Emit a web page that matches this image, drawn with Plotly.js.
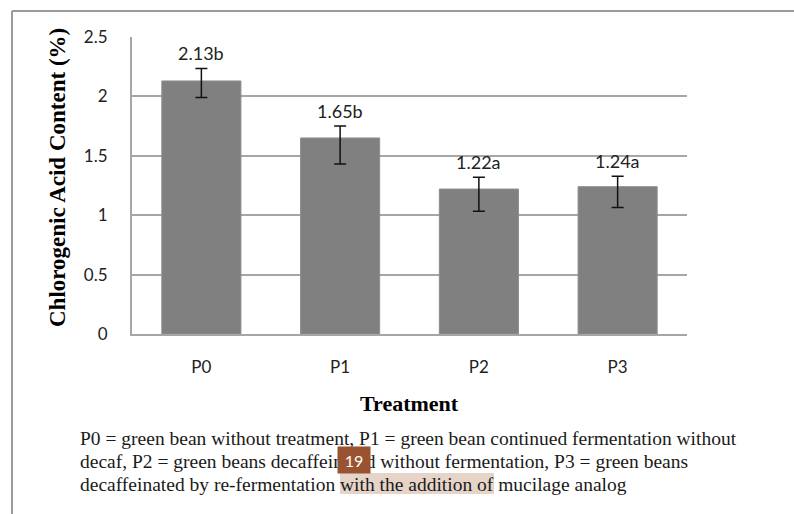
<!DOCTYPE html>
<html>
<head>
<meta charset="utf-8">
<script src="https://cdn.plot.ly/plotly-3.0.1.min.js"></script>
<style>html,body{margin:0;padding:0;background:#fff;}#chart{width:794px;height:514px;}</style>
</head>
<body>
<div id="chart"></div>
<script>
// ---- data ----
const categories = ["P0", "P1", "P2", "P3"];
const values = [2.13, 1.65, 1.22, 1.24];
const letters = ["b", "b", "a", "a"];
const errPlus = [0.105, 0.10, 0.10, 0.087];
const errMinus = [0.14, 0.22, 0.186, 0.175];
const yTickVals = [0, 0.5, 1, 1.5, 2, 2.5];
const yTickText = ["0", "0.5", "1", "1.5", "2", "2.5"];
const captionLines = [
  "P0 = green bean without treatment, P1 = green bean continued fermentation without",
  "decaf, P2 = green beans decaffeinated without fermentation, P3 = green beans",
  "decaffeinated by re-fermentation with the addition of mucilage analog"
];

// ---- layout helpers (pixel -> paper) ----
const W = 794, H = 514;
const M = {l: 132, r: 107, t: 37, b: 180};
const PW = W - M.l - M.r, PH = H - M.t - M.b;
const px = x => (x - M.l) / PW;
const py = y => (H - M.b - y) / PH;

const tickFont = {family: "Lato, 'Open Sans', sans-serif", size: 17, color: "#222"};
const labelFont = {family: "Lato, 'Open Sans', sans-serif", size: 18, color: "#222"};
const serif = "'Liberation Serif', 'Times New Roman', serif";

const trace = {
  type: "bar",
  x: categories,
  y: values,
  width: 0.57,
  marker: {color: "#808080", line: {color: "#8c8c8c", width: 1}},
  error_y: {type: "data", symmetric: false, array: errPlus, arrayminus: errMinus,
            color: "#111", thickness: 1.5, width: 6},
  hoverinfo: "none"
};

const annotations = categories.map((c, i) => ({
  x: c, y: values[i] + errPlus[i], xref: "x", yref: "y",
  text: values[i].toFixed(2) + letters[i],
  showarrow: false, yanchor: "bottom", yshift: 2,
  font: labelFont
}));

annotations.push({
  xref: "paper", yref: "paper", x: px(58), y: py(178),
  text: "<b>Chlorogenic Acid Content (%)</b>", textangle: -90, showarrow: false,
  font: {family: serif, size: 23, color: "#000"},
  xanchor: "center", yanchor: "middle"
});
annotations.push({
  xref: "paper", yref: "paper", x: px(409), y: py(403),
  text: "<b>Treatment</b>", showarrow: false,
  font: {family: serif, size: 22, color: "#000"},
  xanchor: "center", yanchor: "middle"
});
const lineY = [438, 461, 484];
captionLines.forEach((t, i) => annotations.push({
  xref: "paper", yref: "paper", x: px(78), y: py(lineY[i]),
  text: t, showarrow: false, xanchor: "left", yanchor: "middle",
  font: {family: serif, size: 19.5, color: "#1a1a1a"}
}));
annotations.push({
  xref: "paper", yref: "paper", x: px(354), y: py(460),
  text: "19", showarrow: false, xanchor: "center", yanchor: "middle",
  width: 26, height: 20, borderpad: 3, bgcolor: "#9a5330",
  font: {family: "Lato, sans-serif", size: 16, color: "#fff"}
});

const shapes = [
  {type: "line", xref: "paper", yref: "paper", x0: px(12), x1: px(800), y0: py(11), y1: py(11),
   line: {color: "#9a9a9a", width: 2}},
  {type: "line", xref: "paper", yref: "paper", x0: px(12), x1: px(12), y0: py(11), y1: py(520),
   line: {color: "#9a9a9a", width: 2}},
  {type: "rect", xref: "paper", yref: "paper", x0: px(340), x1: px(494), y0: py(473), y1: py(494),
   fillcolor: "#e6d4c9", line: {width: 0}, layer: "above"}
];

const layout = {
  width: W, height: H,
  margin: M,
  paper_bgcolor: "#fff", plot_bgcolor: "#fff",
  showlegend: false,
  xaxis: {
    type: "category", tickfont: tickFont, showgrid: false,
    showline: true, linecolor: "#a6a6a6", linewidth: 2,
    ticks: "", ticklabelstandoff: 17, fixedrange: true
  },
  yaxis: {
    range: [0, 2.5], tickvals: yTickVals, ticktext: yTickText, tickfont: tickFont,
    showgrid: true, gridcolor: "#a6a6a6", gridwidth: 2,
    showline: true, linecolor: "#a6a6a6", linewidth: 2,
    zeroline: false, ticks: "", ticklabelstandoff: 19, fixedrange: true
  },
  annotations: annotations,
  shapes: shapes
};

Plotly.newPlot("chart", [trace], layout, {displayModeBar: false, staticPlot: true});
</script>
</body>
</html>
